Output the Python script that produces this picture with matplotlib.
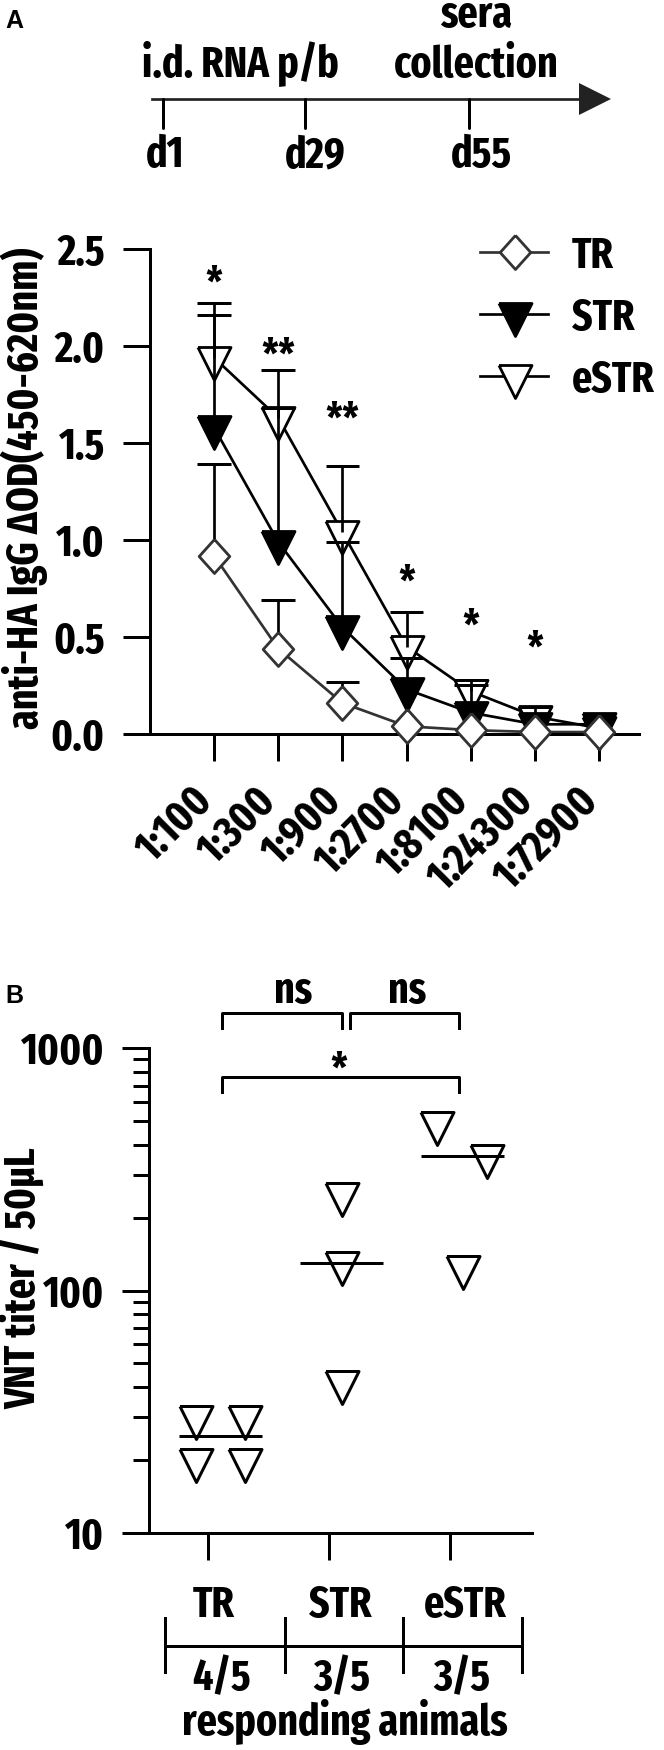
import numpy as np
import matplotlib
matplotlib.use('Agg')
import matplotlib.pyplot as plt
from matplotlib import font_manager as fm
from matplotlib.textpath import TextPath
from matplotlib.transforms import ScaledTranslation

# panel A: ELISA dilution curves (mean + SD, only upper bar drawn)
dilutions = ['1:100', '1:300', '1:900', '1:2700', '1:8100', '1:24300', '1:72900']
tr_mean = [0.92, 0.44, 0.16, 0.04, 0.02, 0.01, 0.01]
tr_sd = [0.47, 0.25, 0.11, 0.0, 0.0, 0.0, 0.0]
str_mean = [1.58, 0.99, 0.55, 0.23, 0.11, 0.05, 0.05]
str_sd = [0.58, 0.69, 0.44, 0.16, 0.145, 0.0, 0.0]
estr_mean = [1.94, 1.63, 1.04, 0.45, 0.22, 0.09, 0.03]
estr_sd = [0.28, 0.245, 0.34, 0.18, 0.06, 0.05, 0.0]
stars = ['*', '**', '**', '*', '*', '*']
star_base = [2.25, 1.88, 1.55, 0.71, 0.48, 0.37]  # baseline height of each star label

# panel B: VNT titers of responding animals
groups = ['TR', 'STR', 'eSTR']
responders = ['4/5', '3/5', '3/5']
tr_titer = [30, 30, 20, 20]
str_titer = [250, 130, 42]
estr_titer = [490, 360, 125]
tr_dx = [-0.2, 0.2, -0.2, 0.2]  # horizontal scatter inside column
str_dx = [0.0, 0.0, 0.0]
estr_dx = [-0.21, 0.2, 0.0]

# timeline
tl_days = ['d1', 'd29', 'd55']
tl_px = [163, 305, 469]
tl_lab_px = [165, 315, 481]

DPI = 100
W, H = 664, 1750
PT = 72 / DPI  # pixels -> points

SANS = ('Sans', 'Roboto', 'Lato', 'Inter', 'Liberation', 'Arial', 'Helvetica')
SKIP = ('Mono', 'Serif', 'CJK', 'Math', 'Emoji', 'Symbol', 'Display', 'Script', 'Hand', 'Cursive')


# the figure uses a narrow bold face (Arial Narrow like); take the closest installed sans
def pick_font(target=5.35):
    best = None
    for f in fm.fontManager.ttflist:
        w = f.weight if isinstance(f.weight, int) else fm.weight_dict.get(f.weight, 400)
        if not 600 <= w <= 800 or f.style != 'normal':
            continue
        if not any(k in f.name for k in SANS) or any(k in f.name for k in SKIP):
            continue
        try:
            p = fm.FontProperties(fname=f.fname)
            wid = TextPath((0, 0), 'collection', size=1, prop=p).get_extents().width
            cap = TextPath((0, 0), 'H', size=1, prop=p).get_extents().height
        except Exception:
            continue
        score = abs(wid / cap - target) + 0.0005 * abs(w - 700)
        if best is None or score < best[0]:
            best = (score, f, w, cap, wid)
    return best


_s, _f, _w, _cap, _wid = pick_font()
plt.rcParams['font.family'] = [_f.name, 'DejaVu Sans']
plt.rcParams['font.weight'] = _w
plt.rcParams['font.stretch'] = _f.stretch
FS = min(30 * PT / _cap, 1.08 * 160 * PT / _wid)

fig = plt.figure(figsize=(W / DPI, H / DPI), dpi=DPI)


def box(l, t, r, b):
    return [l / W, 1 - b / H, (r - l) / W, (b - t) / H]


tri = [(-0.75, 0.5), (0.75, 0.5), (0, -1), (-0.75, 0.5)]  # centroid at origin
dia = [(0, 1), (0.9, 0), (0, -1), (-0.9, 0), (0, 1)]
TRI_MS = 44 * PT
DIA_MS = 34 * PT
LW = 3 * PT
GREY = '#333333'

# ---------------- panel A
ax = fig.add_axes(box(150, 249, 639, 734))
x = np.arange(len(dilutions))
ax.set_xlim(-0.997, 6.62)
ax.set_ylim(0, 2.5)
for s in ['top', 'right']:
    ax.spines[s].set_visible(False)
for s in ['left', 'bottom']:
    ax.spines[s].set_linewidth(LW)
ax.tick_params(direction='out', length=27 * PT, width=LW, labelsize=FS, pad=13)
ax.set_yticks([0, 0.5, 1.0, 1.5, 2.0, 2.5])
ax.set_yticklabels(['0.0', '0.5', '1.0', '1.5', '2.0', '2.5'])
ax.set_xticks(x)
ax.set_xticklabels(dilutions, rotation=45, ha='right', va='center', rotation_mode='anchor')
ax.tick_params(axis='x', pad=24)
for lab in ax.get_xticklabels():
    lab.set_transform(lab.get_transform() + ScaledTranslation(-8 / DPI, 0, fig.dpi_scale_trans))

series = [
    (estr_mean, estr_sd, 'k', tri, 'white', 3),
    (str_mean, str_sd, 'k', tri, 'k', 3),
    (tr_mean, tr_sd, GREY, dia, 'white', 5),
]
cap = 0.263
for mean, sd, col, mk, fc, z in series:
    mean = np.array(mean)
    sd = np.array(sd)
    ax.plot(x, mean, '-', color=col, lw=2.7 * PT, zorder=2)
    ax.plot(x, mean, ls='none', marker=mk, ms=TRI_MS if mk is tri else DIA_MS,
            mfc=fc, mec=col, mew=2.8 * PT, zorder=z, clip_on=False)
    has = sd > 0
    ax.vlines(x[has], mean[has], mean[has] + sd[has], color='k', lw=2.7 * PT, zorder=4)
    ax.hlines(mean[has] + sd[has], x[has] - cap, x[has] + cap, color='k', lw=LW, zorder=4)

for i, (s, yb) in enumerate(zip(stars, star_base)):
    ax.text(i, yb, s, ha='center', va='baseline', fontsize=FS)

# ---------------- panel B
bx = fig.add_axes(box(149.3, 1048, 532, 1533))
bx.set_yscale('log')
bx.set_ylim(10, 1000)
bx.set_xlim(0.4116, 3.574)
for s in ['top', 'right']:
    bx.spines[s].set_visible(False)
for s in ['left', 'bottom']:
    bx.spines[s].set_linewidth(LW)
bx.set_yticks([10, 100, 1000])
bx.set_yticklabels(['10', '100', '1000'])
minor = [m * d for d in (10, 100) for m in range(2, 10)]
bx.set_yticks(minor, minor=True)
bx.set_yticklabels([], minor=True)
bx.tick_params(axis='y', which='major', direction='out', length=27 * PT, width=LW,
               labelsize=FS, pad=13)
bx.tick_params(axis='y', which='minor', direction='out', length=16 * PT, width=LW)
bx.set_xticks(np.arange(1, 4) - 0.1)
bx.set_xticklabels([])
bx.tick_params(axis='x', direction='out', length=27 * PT, width=LW)

for i, (vals, dx) in enumerate([(tr_titer, tr_dx), (str_titer, str_dx), (estr_titer, estr_dx)]):
    xs = i + 1 + np.array(dx)
    bx.plot(xs, vals, ls='none', marker=tri, ms=TRI_MS, mfc='none', mec='k',
            mew=3 * PT, zorder=3)
    med = np.median(vals)
    bx.hlines(med, i + 1 - 0.34, i + 1 + 0.34, color='k', lw=LW, zorder=4)

# ---------------- overlay for schematic / annotations (pixel coords)
ov = fig.add_axes([0, 0, 1, 1], zorder=10)
ov.set_xlim(0, W)
ov.set_ylim(H, 0)
ov.axis('off')

ov.text(5, 28, 'A', fontsize=18, family=['Liberation Sans', 'DejaVu Sans'], fontweight='bold',
        fontstretch='normal')
ov.text(5, 1003, 'B', fontsize=18, family=['Liberation Sans', 'DejaVu Sans'], fontweight='bold',
        fontstretch='normal')

# timeline
ov.plot([152, 582], [99, 99], color='#222222', lw=2.7 * PT)
ov.fill([579, 611, 579], [83, 99, 115], color='#222222', lw=0)
for px, lab, lx in zip(tl_px, tl_days, tl_lab_px):
    ov.plot([px, px], [99, 128], color='k', lw=LW, solid_capstyle='round')
    ov.text(lx, 167, lab, ha='center', va='baseline', fontsize=FS)
ov.text(240, 76, 'i.d. RNA p/b', ha='center', va='baseline', fontsize=FS)
ov.text(476, 27, 'sera', ha='center', va='baseline', fontsize=FS)
ov.text(476, 77, 'collection', ha='center', va='baseline', fontsize=FS)

# y labels
ov.text(24, 488, 'anti-HA IgG ΔOD(450-620nm)', rotation=90, ha='center', va='center', fontsize=FS)
ov.text(22, 1278, 'VNT titer / 50µL', rotation=90, ha='center', va='center', fontsize=FS)

# legend
leg = [('TR', GREY, dia, 'white', DIA_MS), ('STR', 'k', tri, 'k', TRI_MS),
       ('eSTR', 'k', tri, 'white', TRI_MS)]
for j, (name, col, mk, fc, ms) in enumerate(leg):
    yy = 252 + 62 * j
    ov.plot([480, 548], [yy, yy], color=col, lw=2.7 * PT)
    ov.plot([515], [yy], ls='none', marker=mk, ms=ms, mfc=fc, mec=col, mew=2.8 * PT)
    ov.text(572, yy + 16, name, ha='left', va='baseline', fontsize=FS)


# significance brackets panel B
def bracket(x0, x1, ytop, ybot):
    ov.plot([x0, x0, x1, x1], [ybot, ytop, ytop, ybot], color='k', lw=LW)


bracket(221.7, 341.7, 1013.3, 1028.3)
bracket(350, 459, 1013.3, 1028.3)
bracket(221.7, 459.3, 1077.3, 1091.7)
ov.text(293, 1003, 'ns', ha='center', va='baseline', fontsize=FS)
ov.text(407, 1003, 'ns', ha='center', va='baseline', fontsize=FS)
ov.text(339, 1084, '*', ha='center', va='baseline', fontsize=FS)

# group strip below panel B
seg = [165, 285, 403, 522]
ov.plot([seg[0], seg[-1]], [1645.7, 1645.7], color='k', lw=LW)
for sx in seg:
    ov.plot([sx, sx], [1618, 1672], color='k', lw=LW)
for g, r, gx, rx in zip(groups, responders, [214, 340, 465], [222, 342, 462]):
    ov.text(gx, 1617, g, ha='center', va='baseline', fontsize=FS)
    ov.text(rx, 1690, r, ha='center', va='baseline', fontsize=FS)
ov.text(345, 1735, 'responding animals', ha='center', va='baseline', fontsize=FS)

fig.savefig('out.png', dpi=DPI)
